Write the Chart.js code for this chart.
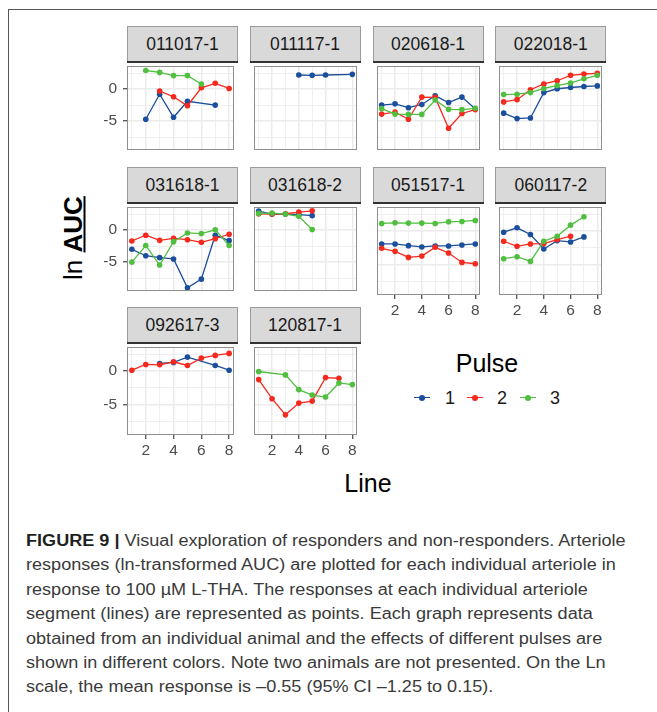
<!DOCTYPE html>
<html>
<head>
<meta charset="utf-8">
<script src="https://cdn.jsdelivr.net/npm/chart.js@4.4.1/dist/chart.umd.min.js"></script>
<style>
  html, body { margin: 0; padding: 0; background: #fff; }
  body { width: 657px; height: 712px; position: relative; overflow: hidden;
         font-family: "Liberation Sans", Arial, Helvetica, sans-serif; }
  .frame { position: absolute; left: 8px; top: 9px; width: 720px; height: 740px;
           border-left: 1px solid #555; border-top: 1px solid #555; }
  .strip { position: absolute; background: #d9d9d9; border: 1px solid #9a9a9a; border-bottom: none;
           box-sizing: border-box; text-align: center; color: #1a1a1a; font-size: 17.5px; }
  .strip::after { content: ""; position: absolute; left: -1px; right: -1px; bottom: -1px; height: 2px; background: #333; }
  .pbox { position: absolute; }
  .pbox canvas { display: block; }
  .ytitle { position: absolute; left: 73px; top: 238px; transform: translate(-50%, -50%) rotate(-90deg);
            white-space: nowrap; font-size: 26px; color: #000; }
  .ytitle b { text-decoration: underline; text-decoration-thickness: 2px; text-underline-offset: 2px; }
  .xtitle { position: absolute; left: 368px; top: 483px; transform: translate(-50%, -50%);
            font-size: 25px; color: #000; white-space: nowrap; }
  .legtitle { position: absolute; left: 487px; top: 363px; transform: translate(-50%, -50%);
              font-size: 25px; color: #000; }
  .legkey { position: absolute; height: 1.6px; }
  .legdot { position: absolute; width: 6px; height: 6px; border-radius: 50%; }
  .leglab { position: absolute; font-size: 18px; color: #1a1a1a; transform: translateY(-50%); }
  .cap { position: absolute; left: 26px; white-space: nowrap; font-size: 16px; color: #3a3a3a;
         transform-origin: 0 50%; line-height: 20px; }
  .cap b { color: #1f1f1f; }
</style>
</head>
<body>
<div class="frame"></div>
<div id="fig"></div>
<div class="ytitle">ln <b>AUC</b></div>
<div class="xtitle">Line</div>
<div class="legtitle">Pulse</div>
<div id="legend"></div>
<div id="caption"></div>

<script>
// Animals (one facet each), arteriole segment numbers, pulses
const animals = ['011017-1', '011117-1', '020618-1', '022018-1', '031618-1',
                 '031618-2', '051517-1', '060117-2', '092617-3', '120817-1'];
const lineNumbers = [1, 2, 3, 4, 5, 6, 7, 8];
const pulseNames = ['1', '2', '3'];
const pulseColors = ['#1b4f9c', '#f5291e', '#50bf3f'];

// ln AUC per animal (rows follow `animals`), one column per line 1..8; null = not recorded
const pulse1 = [
  [null, -4.7, -0.8, -4.4, -1.9, null, -2.5, null],
  [null, null, null, 2.2, 2.15, 2.2, null, 2.3],
  [-2.5, -2.3, -2.9, -2.4, -1.05, -2.1, -1.25, -3.1],
  [-3.75, -4.6, -4.5, -0.55, 0.05, 0.25, 0.4, 0.5],
  [-3.0, -4.0, -4.3, -4.5, -9.0, -7.65, -0.8, -1.65],
  [2.95, 2.5, 2.5, 2.4, 2.25, null, null, null],
  [-1.9, -1.9, -2.15, -2.35, -2.2, -2.2, -2.05, -1.9],
  [-0.15, 0.5, -0.5, -2.65, -1.4, -1.6, -0.85, null],
  [null, null, 1.15, 1.3, 2.1, null, 0.85, 0.15],
  [null, null, null, null, null, null, null, null]
];
const pulse2 = [
  [null, null, -0.3, -1.2, -2.6, 0.2, 0.9, 0.1],
  [null, null, null, null, null, null, null, null],
  [-3.9, -3.6, -4.7, -1.25, -1.3, -6.1, -3.8, -3.2],
  [-2.0, -1.65, -0.1, 0.8, 1.3, 2.15, 2.35, 2.45],
  [-1.7, -0.8, -1.6, -1.3, -1.5, -1.9, -1.35, -0.65],
  [2.55, 2.5, 2.55, 2.8, 3.0, null, null, null],
  [-2.55, -3.0, -3.9, -3.7, -2.4, -3.25, -4.65, -4.85],
  [-1.5, -2.25, -1.9, -1.85, -1.25, -0.75, null, null],
  [0.15, 1.0, 0.95, 1.4, 0.85, 1.95, 2.35, 2.65],
  [-1.25, -4.1, -6.5, -4.75, -4.45, -0.95, -1.05, null]
];
const pulse3 = [
  [null, 2.9, 2.6, 2.1, 2.1, 0.8, null, null],
  [null, null, null, null, null, null, null, null],
  [-3.05, -3.9, -3.95, -3.95, -1.7, -3.15, -3.2, -3.0],
  [-0.85, -0.8, -0.55, 0.1, 0.55, 0.95, 1.6, 2.15],
  [-5.0, -2.4, -5.45, -1.8, -0.45, -0.55, 0.05, -2.4],
  [2.6, 2.65, 2.5, 2.15, 0.1, null, null, null],
  [1.15, 1.25, 1.2, 1.2, 1.15, 1.4, 1.45, 1.6],
  [-4.1, -3.8, -4.5, -1.5, -0.75, 0.9, 2.15, null],
  [null, null, null, null, null, null, null, null],
  [-0.05, null, -0.55, -2.75, -3.55, -3.85, -1.75, -2.0]
];
const pulseSeries = [pulse1, pulse2, pulse3];

// Axis breaks
const xMajor = [2, 4, 6, 8];
const xMinor = [1, 3, 5, 7];
const yMajor = [-5, 0];
const yMinor = [-7.5, -2.5, 2.5];
const xRange = [0.65, 8.35];
const yRange = [-9.5, 3.6];

// Facet grid geometry
const colLeft = [127, 249.5, 372.5, 495.3];
const rowTop = [26, 166.5, 307];
const panelW = 111, stripH = 36, panelH = 92;
const nCols = 4;
const leftMargin = 32, bottomMargin = 26;

const tickFont = { family: '"Liberation Sans", Arial, sans-serif', size: 15.5 };

const panelFrame = {
  id: 'panelFrame',
  afterDraw(chart) {
    const a = chart.chartArea, ctx = chart.ctx;
    ctx.save();
    ctx.strokeStyle = '#8f8f8f';
    ctx.lineWidth = 1;
    ctx.strokeRect(Math.round(a.left) + 0.5, Math.round(a.top) + 0.5,
                   Math.round(a.right - a.left) - 1, Math.round(a.bottom - a.top) - 1);
    ctx.restore();
  }
};

function gridStyle(majors) {
  return {
    color: '#ebebeb',
    lineWidth: c => (c.tick && majors.includes(c.tick.value)) ? 1.5 : 0.8,
    tickColor: c => (c.tick && majors.includes(c.tick.value)) ? '#333333' : 'rgba(0,0,0,0)',
    tickLength: 4,
    tickWidth: 1.1
  };
}

const fig = document.getElementById('fig');

animals.forEach((name, idx) => {
  const col = idx % nCols, row = Math.floor(idx / nCols);
  const showX = idx + nCols >= animals.length;   // bottom panel of its column
  const showY = col === 0;
  const pLeft = colLeft[col], sTop = rowTop[row], pTop = sTop + stripH;

  const strip = document.createElement('div');
  strip.className = 'strip';
  strip.style.left = pLeft + 'px';
  strip.style.top = sTop + 'px';
  strip.style.width = panelW + 'px';
  strip.style.height = stripH + 'px';
  strip.style.lineHeight = (stripH - 1) + 'px';
  strip.textContent = name;
  fig.appendChild(strip);

  const cw = panelW + (showY ? leftMargin : 0);
  const ch = panelH + (showX ? bottomMargin : 0);
  const box = document.createElement('div');
  box.className = 'pbox';
  box.style.left = (pLeft - (showY ? leftMargin : 0)) + 'px';
  box.style.top = pTop + 'px';
  box.style.width = cw + 'px';
  box.style.height = ch + 'px';
  const cv = document.createElement('canvas');
  cv.width = cw; cv.height = ch;
  cv.style.width = cw + 'px'; cv.style.height = ch + 'px';
  box.appendChild(cv);
  fig.appendChild(box);

  const datasets = pulseSeries.map((series, k) => ({
    label: pulseNames[k],
    data: series[idx].map((v, i) => ({ x: lineNumbers[i], y: v })).filter(p => p.y !== null),
    borderColor: pulseColors[k],
    backgroundColor: pulseColors[k],
    pointBackgroundColor: pulseColors[k],
    pointRadius: 2.8,
    pointBorderWidth: 0,
    borderWidth: 1.3,
    tension: 0,
    order: 3 - k
  }));

  new Chart(cv, {
    type: 'line',
    data: { datasets },
    options: {
      responsive: false,
      maintainAspectRatio: false,
      animation: false,
      devicePixelRatio: 1,
      layout: { padding: 0 },
      plugins: { legend: { display: false }, tooltip: { enabled: false } },
      scales: {
        x: {
          type: 'linear', min: xRange[0], max: xRange[1],
          afterBuildTicks: s => { s.ticks = xMinor.concat(xMajor).sort((a, b) => a - b).map(v => ({ value: v })); },
          afterFit: s => {
            s.height = showX ? bottomMargin : 0;
            s.paddingLeft = 0; s.paddingRight = 0; s.paddingTop = 0; s.paddingBottom = 0;
          },
          ticks: {
            display: showX, autoSkip: false, maxRotation: 0, padding: 2,
            color: '#4d4d4d', font: tickFont,
            callback: v => xMajor.includes(v) ? String(v) : ''
          },
          grid: Object.assign(gridStyle(xMajor), { drawTicks: showX }),
          border: { display: false }
        },
        y: {
          type: 'linear', min: yRange[0], max: yRange[1],
          afterBuildTicks: s => { s.ticks = yMinor.concat(yMajor).sort((a, b) => a - b).map(v => ({ value: v })); },
          afterFit: s => {
            s.width = showY ? leftMargin : 0;
            s.paddingLeft = 0; s.paddingRight = 0; s.paddingTop = 0; s.paddingBottom = 0;
          },
          ticks: {
            display: showY, autoSkip: false, padding: 6,
            color: '#4d4d4d', font: tickFont,
            callback: v => yMajor.includes(v) ? String(v) : ''
          },
          grid: Object.assign(gridStyle(yMajor), { drawTicks: showY }),
          border: { display: false }
        }
      }
    },
    plugins: [panelFrame]
  });
});

// Legend for pulses
const legend = document.getElementById('legend');
const legKeyX = [414, 467, 520];
const legLabX = [445, 497, 550];
const legY = 397.5;
pulseNames.forEach((p, k) => {
  const key = document.createElement('div');
  key.className = 'legkey';
  key.style.left = legKeyX[k] + 'px'; key.style.top = (legY - 0.8) + 'px';
  key.style.width = '16px'; key.style.background = pulseColors[k];
  legend.appendChild(key);
  const dot = document.createElement('div');
  dot.className = 'legdot';
  dot.style.left = (legKeyX[k] + 5) + 'px'; dot.style.top = (legY - 3) + 'px';
  dot.style.background = pulseColors[k];
  legend.appendChild(dot);
  const lab = document.createElement('div');
  lab.className = 'leglab';
  lab.style.left = legLabX[k] + 'px'; lab.style.top = legY + 'px';
  lab.textContent = p;
  legend.appendChild(lab);
});

// Figure caption
const captionLines = [
  '<b>FIGURE 9 |</b> Visual exploration of responders and non-responders. Arteriole',
  'responses (ln-transformed AUC) are plotted for each individual arteriole in',
  'response to 100 µM L-THA. The responses at each individual arteriole',
  'segment (lines) are represented as points. Each graph represents data',
  'obtained from an individual animal and the effects of different pulses are',
  'shown in different colors. Note two animals are not presented. On the Ln',
  'scale, the mean response is –0.55 (95% CI –1.25 to 0.15).'
];
const caption = document.getElementById('caption');
const capEls = captionLines.map((html, i) => {
  const d = document.createElement('div');
  d.className = 'cap';
  d.style.top = (531 + i * 24.4) + 'px';
  d.innerHTML = html;
  caption.appendChild(d);
  return d;
});
const sx = 600 / capEls[0].offsetWidth;
capEls.forEach(d => { d.style.transform = 'scaleX(' + sx.toFixed(4) + ')'; });
</script>
</body>
</html>
